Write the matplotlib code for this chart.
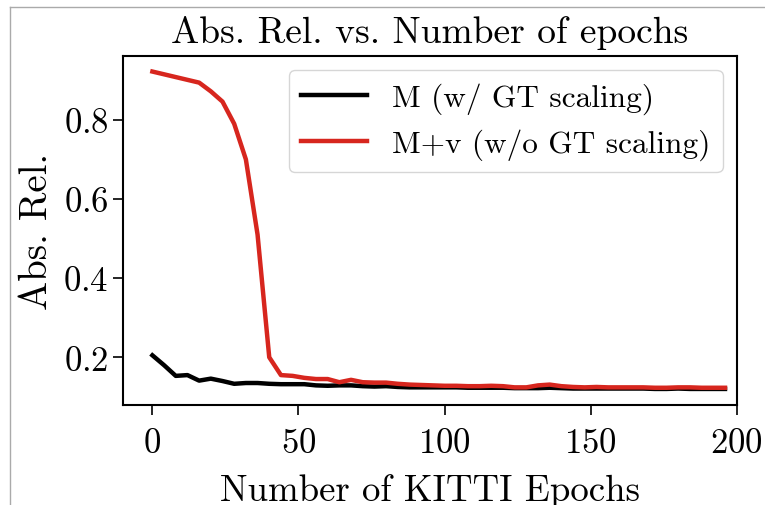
import matplotlib
matplotlib.use('Agg')
import matplotlib.pyplot as plt
import numpy as np

# epochs sampled every 4
epochs = np.arange(0, 200, 4)

abs_rel_gt = [0.205, 0.180, 0.153, 0.155, 0.141, 0.146, 0.140, 0.133, 0.135, 0.135,
              0.133, 0.132, 0.132, 0.132, 0.129, 0.128, 0.129, 0.129, 0.127, 0.126,
              0.127, 0.125, 0.124, 0.124, 0.124, 0.124, 0.124, 0.123, 0.123, 0.123,
              0.123, 0.122, 0.122, 0.122, 0.123, 0.122, 0.121, 0.121, 0.121, 0.121,
              0.121, 0.121, 0.121, 0.120, 0.120, 0.121, 0.120, 0.120, 0.120, 0.120]

abs_rel_v = [0.922, 0.915, 0.908, 0.901, 0.894, 0.872, 0.846, 0.790, 0.700, 0.510,
             0.200, 0.155, 0.153, 0.148, 0.145, 0.145, 0.137, 0.143, 0.137, 0.136,
             0.136, 0.133, 0.131, 0.130, 0.129, 0.128, 0.128, 0.127, 0.127, 0.128,
             0.127, 0.124, 0.124, 0.129, 0.131, 0.127, 0.125, 0.124, 0.125, 0.124,
             0.124, 0.124, 0.124, 0.123, 0.123, 0.124, 0.124, 0.123, 0.123, 0.123]

labels = ['M (w/ GT scaling)', 'M+v (w/o GT scaling)']

plt.rcParams['font.family'] = ['cmr10', 'DejaVu Serif']
plt.rcParams['axes.formatter.use_mathtext'] = True
plt.rcParams['font.size'] = 25

fig = plt.figure(figsize=(7.65, 5.06), dpi=100)
ax = fig.add_axes([0.161, 0.198, 0.802, 0.690])

ax.plot(epochs, abs_rel_gt, color='black', lw=3.2, label=labels[0])
ax.plot(epochs, abs_rel_v, color='#d7261e', lw=3.2, label=labels[1])

ax.set_xlim(-10, 200)
ax.set_xticks([0, 50, 100, 150, 200])
ax.set_yticks([0.2, 0.4, 0.6, 0.8])
ax.set_title('Abs. Rel. vs. Number of epochs', fontsize=27, pad=10)
ax.set_xlabel('Number of KITTI Epochs', fontsize=26.5, labelpad=10)
ax.set_ylabel('Abs. Rel.', fontsize=28, labelpad=6)
ax.tick_params(width=1.2, length=7)
ax.tick_params(axis='x', pad=9)
for s in ax.spines.values():
    s.set_linewidth(1.5)

ax.legend(loc='upper right', fontsize=22.5, handlelength=2.1,
          labelspacing=0.45, borderaxespad=0.45)

# thin frame line on top and left like the screenshot
fig.add_artist(plt.Line2D([0.013, 0.013], [0, 0.985], color='#aaaaaa', lw=1))
fig.add_artist(plt.Line2D([0.013, 1], [0.985, 0.985], color='#aaaaaa', lw=1))

fig.savefig('out.png', dpi=100)
